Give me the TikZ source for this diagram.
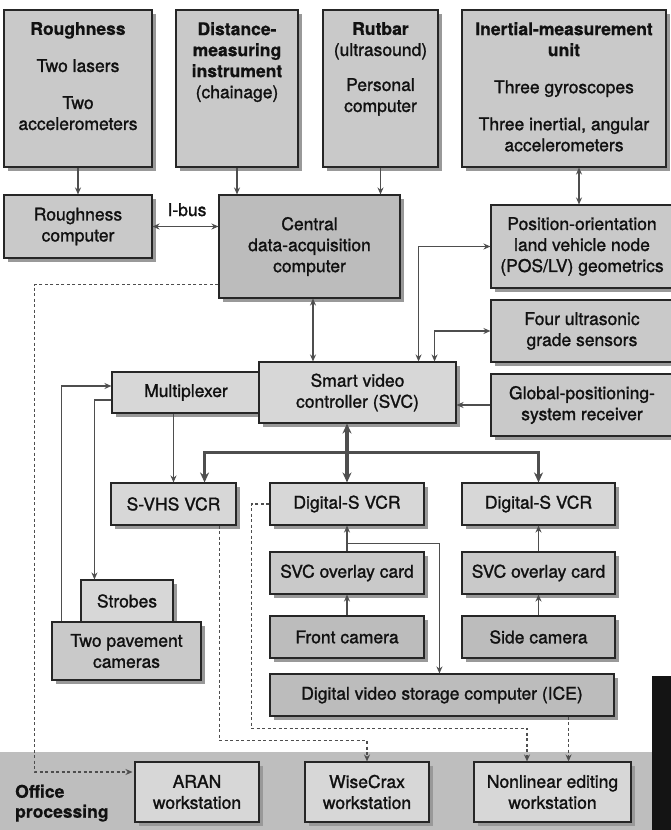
\documentclass[tikz,border=0pt]{standalone}
\usepackage{fontspec}
\setmainfont{TeX Gyre Heros}[UprightFeatures={FakeBold=1.3},BoldFeatures={FakeBold=0.6}]
\usetikzlibrary{arrows.meta,shadows,calc}
\definecolor{bxA}{HTML}{C9C9C9}
\definecolor{bxB}{HTML}{D7D7D7}
\definecolor{bxC}{HTML}{BCBCBC}
\definecolor{bandc}{HTML}{BEBEBE}
\definecolor{lnc}{HTML}{4E4E4E}
\definecolor{shc}{HTML}{999999}
\definecolor{txc}{HTML}{111111}
\begin{document}
\begin{tikzpicture}[x=1pt,y=-1pt,
  txt/.style={text=txc, align=center, inner sep=0pt, font=\fontsize{17.5}{21}\selectfont},
  box/.style={txt, draw=black!85, line width=1.1pt, rectangle,
    general shadow={fill=shc, shadow xshift=4pt, shadow yshift=-4pt}},
  arr/.style={draw=lnc, line width=1.8pt, -{Stealth[length=7pt,width=6pt]}},
  darr/.style={draw=lnc, line width=1.8pt, {Stealth[length=7pt,width=6pt]}-{Stealth[length=7pt,width=6pt]}},
  busarr/.style={draw=lnc, line width=3.4pt, {Stealth[length=10pt,width=9pt]}-{Stealth[length=10pt,width=9pt]}},
  dsh/.style={draw=lnc, line width=1.8pt, dash pattern=on 3pt off 2.5pt, -{Stealth[length=7pt,width=6pt]}}
]
\useasboundingbox (0,0) rectangle (671,830);
\fill[white] (0,0) rectangle (671,830);
% office band and page edge
\fill[bandc] (0,752) rectangle (652,830);
\fill[black!92] (652,676) rectangle (671,830);

% top boxes
\node[box, fill=bxA, minimum width=148pt, minimum height=157pt] (rough) at (78,88.5) {};
\node[txt, anchor=north] (roughT) at ($(rough.north)+(0,12.5)$) {\bfseries Roughness\\[16pt]Two lasers\\[16pt]Two\\accelerometers};
\node[box, fill=bxA, minimum width=122pt, minimum height=157pt] (dist) at (237,88.5) {};
\node[txt, anchor=north] (distT) at ($(dist.north)+(0,12.5)$) {\bfseries Distance-\\\bfseries measuring\\\bfseries instrument\\(chainage)};
\node[box, fill=bxA, minimum width=115pt, minimum height=157pt] (rut) at (380.5,88.5) {};
\node[txt, anchor=north] (rutT) at ($(rut.north)+(0,12.5)$) {\bfseries Rutbar\\(ultrasound)\\[14pt]Personal\\computer};
\node[box, fill=bxA, minimum width=204pt, minimum height=157pt] (imu) at (564,88.5) {};
\node[txt, anchor=north] (imuT) at ($(imu.north)+(0,12.5)$) {\bfseries Inertial-measurement\\\bfseries unit\\[16pt]Three gyroscopes\\[16pt]Three inertial, angular\\accelerometers};

% second row
\node[box, fill=bxA, minimum width=148pt, minimum height=63pt] (roughc) at (78,226.5) {Roughness\\computer};
\node[box, fill=bxC, minimum width=181pt, minimum height=103pt] (central) at (309.5,246.5) {Central\\data-acquisition\\computer};
\node[box, fill=bxA, minimum width=182pt, minimum height=83pt] (posl) at (582,246.5) {Position-orientation\\land vehicle node\\(POS/LV) geometrics};
\node[box, fill=bxA, minimum width=182pt, minimum height=62pt] (ultra) at (582,331) {Four ultrasonic\\grade sensors};
\node[box, fill=bxA, minimum width=182pt, minimum height=62pt] (gps) at (582,405) {Global-positioning-\\system receiver};

% controller row
\node[box, fill=bxB, minimum width=148pt, minimum height=41pt] (mux) at (186,392.5) {Multiplexer};
\node[box, fill=bxB, minimum width=197pt, minimum height=61pt] (svc) at (357.5,392.5) {Smart video\\controller (SVC)};

% VCR row
\node[box, fill=bxB, minimum width=125pt, minimum height=42pt] (svhs) at (173.5,504) {S-VHS VCR};
\node[box, fill=bxB, minimum width=154pt, minimum height=42pt] (dvcr1) at (347,504) {Digital-S VCR};
\node[box, fill=bxB, minimum width=153pt, minimum height=42pt] (dvcr2) at (538.5,504) {Digital-S VCR};
\node[box, fill=bxA, minimum width=154pt, minimum height=42pt] (ov1) at (347,573) {SVC overlay card};
\node[box, fill=bxA, minimum width=153pt, minimum height=42pt] (ov2) at (538.5,573) {SVC overlay card};
\node[box, fill=bxC, minimum width=154pt, minimum height=42pt] (front) at (347,637) {Front camera};
\node[box, fill=bxC, minimum width=153pt, minimum height=42pt] (side) at (538.5,637) {Side camera};
\node[box, fill=bxC, minimum width=344pt, minimum height=42pt] (ice) at (442,695) {Digital video storage computer (ICE)};
\node[box, fill=bxB, minimum width=92pt, minimum height=42pt] (strobes) at (127,601) {Strobes};
\node[box, fill=bxA, minimum width=149pt, minimum height=58pt] (pave) at (126.5,651) {Two pavement\\cameras};

% office row
\node[box, fill=bxB, minimum width=124pt, minimum height=60pt] (aran) at (197,792) {ARAN\\workstation};
\node[box, fill=bxB, minimum width=124pt, minimum height=60pt] (wise) at (367,792) {WiseCrax\\workstation};
\node[box, fill=bxB, minimum width=157pt, minimum height=60pt] (nonl) at (552.5,792) {Nonlinear editing\\workstation};
\node[txt, anchor=north west, align=left, font=\fontsize{17.5}{20}\selectfont\bfseries] (office) at (15,784.5) {Office\\processing};

% connectors
\draw[arr] (rough.south) -- (roughc.north);
\draw[arr] (dist.south) -- (dist.south |- central.north);
\draw[arr] (rut.south) -- (rut.south |- central.north);
\coordinate (pimu) at ($(posl.north)+(-3,0)$);
\draw[darr] (pimu |- imu.south) -- (pimu);
\draw[darr] (roughc.east) -- (central.west |- roughc.east);
\node[txt, anchor=base] (ibus) at (187,216) {I-bus};
\coordinate (csv) at ($(central.south)+(3.5,0)$);
\draw[darr] (csv) -- (csv |- svc.north);
\draw[darr] (posl.west) -| ($(svc.north east)+(-38,0)$);
\draw[darr] (ultra.west) -| ($(svc.north east)+(-22,0)$);
\draw[arr] (gps.west) -- (svc.east |- gps.west);
\draw[arr] (svhs.north |- mux.south) -- (svhs.north);
\draw[arr] ($(mux.west)+(0,7.5)$) -| ($(strobes.north west)+(14,0)$);
\draw[arr] ($(pave.north west)+(10,0)$) |- ($(mux.west)+(0,-6.5)$);

% video bus
\draw[busarr] (dvcr1.north |- svc.south) -- (dvcr1.north);
\draw[busarr] ($(svhs.north east)+(-32,0)$) |- ($(dvcr2.north)+(0,-30)$) -- (dvcr2.north);

\draw[arr] (front.north) -- (ov1.south);
\draw[arr] (ov1.north) -- (dvcr1.south);
\draw[arr] (side.north) -- (ov2.south);
\draw[arr] (ov2.north) -- (dvcr2.south);
\draw[arr] ($(dvcr1.south)+(0,18)$) -| ($(ice.north west)+(170,0)$);

% dashed office links
\draw[dsh] ($(central.south west)+(0,-14)$) -| ($(aran.west)+(-100,-20)$) -- ($(aran.west)+(-2,-20)$);
\draw[dsh] ($(svhs.south east)+(-17,0)$) |- ($(wise.north)+(0,-21)$) -- (wise.north);
\draw[dsh] (dvcr1.west) -- ++(-18,0) |- ($(nonl.north)+(-25.5,-33)$) -- ($(nonl.north)+(-25.5,0)$);
\coordinate (d4) at ($(ice.south east)+(-46,0)$);
\draw[dsh] (d4) -- (d4 |- nonl.north);
\end{tikzpicture}
\end{document}
